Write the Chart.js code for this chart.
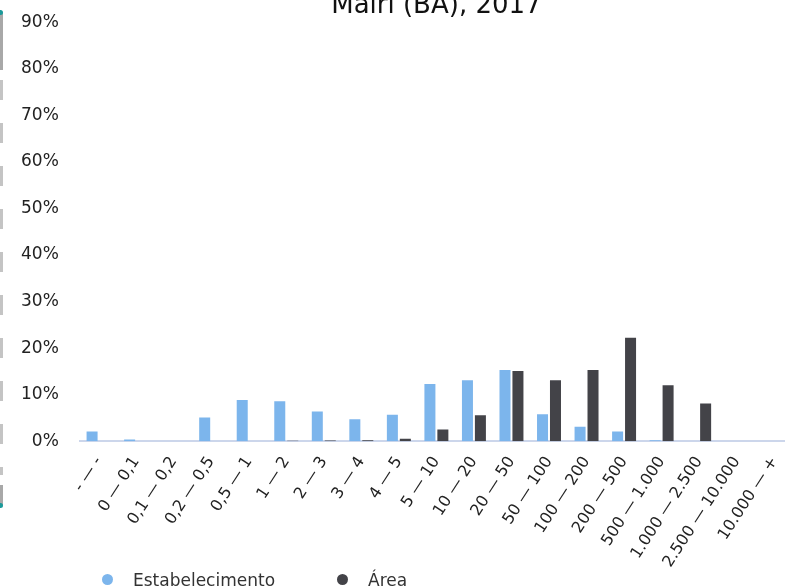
<!DOCTYPE html>
<html>
<head>
<meta charset="utf-8">
<script src="https://cdn.jsdelivr.net/npm/chart.js@4.4.1/dist/chart.umd.min.js"></script>
<style>
  html, body { margin: 0; padding: 0; background: #fff; overflow: hidden; }
  body { width: 785px; height: 587px; position: relative; font-family: "DejaVu Sans", sans-serif; }
  #wrap { position: absolute; left: 0; top: -17px; width: 870px; height: 640px; }
  .slider { position: absolute; left: 0; width: 3px; }
  .dot { position: absolute; left: -2px; width: 5px; height: 5px; border-radius: 50%; background: #1b9a9a; }
  #legend { position: absolute; left: 0; top: 570px; font-size: 17px; color: #333; white-space: nowrap; }
  #legend span.item { position: absolute; top: 0; }
  #legend i { display: inline-block; width: 11px; height: 11px; border-radius: 50%; vertical-align: middle; margin-right: 20px; position: relative; top: -2px; }
</style>
</head>
<body>
<div class="slider" style="top:12px;height:58px;background:#a8a8a8;"></div>
<div class="slider" style="top:80px;height:395px;background:repeating-linear-gradient(#c4c4c4 0 20px, transparent 20px 43px);"></div>
<div class="slider" style="top:485px;height:20px;background:#a8a8a8;"></div>
<div class="dot" style="top:10px;"></div>
<div class="dot" style="top:503px;"></div>
<div id="wrap"><canvas id="barChart"></canvas></div>
<div id="legend"></div>
<script>
var categories = ['- \u2014 -', '0 \u2014 0,1', '0,1 \u2014 0,2', '0,2 \u2014 0,5', '0,5 \u2014 1', '1 \u2014 2', '2 \u2014 3',
    '3 \u2014 4', '4 \u2014 5', '5 \u2014 10', '10 \u2014 20', '20 \u2014 50', '50 \u2014 100', '100 \u2014 200',
    '200 \u2014 500', '500 \u2014 1.000', '1.000 \u2014 2.500', '2.500 \u2014 10.000', '10.000 \u2014 +'];
var estabelecimento = [2.1, 0.35, 0, 5.1, 8.85, 8.6, 6.4, 4.7, 5.7, 12.3, 13.1, 15.3, 5.8, 3.1, 2.1, 0.2, 0, 0, 0];
var area = [0, 0, 0, 0, 0.02, 0.1, 0.15, 0.2, 0.55, 2.5, 5.6, 15.1, 13.1, 15.3, 22.2, 12.0, 8.1, 0, 0];
var seriesNames = ['Estabelecimento', '\u00c1rea'];
var seriesColors = ['#7cb5ec', '#434348'];
var titleText = 'Mairi (BA), 2017';

// legend drawn as html, placed under the plot
var legend = document.getElementById('legend');
var legendX = [102, 337];
seriesNames.forEach(function (name, i) {
    var s = document.createElement('span');
    s.className = 'item';
    s.style.left = legendX[i] + 'px';
    s.innerHTML = '<i style="background:' + seriesColors[i] + '"></i>' + name;
    legend.appendChild(s);
});

// center the title over the plot area, not the whole canvas
var titleOverPlot = {
    id: 'titleOverPlot',
    afterLayout: function (chart) {
        if (chart.titleBlock) {
            chart.titleBlock.left = chart.chartArea.left;
            chart.titleBlock.right = chart.chartArea.right;
        }
    }
};

var canvas = document.getElementById('barChart');
var ctx = canvas.getContext('2d');
Chart.defaults.font.family = '"DejaVu Sans", sans-serif';

var chart = new Chart(ctx, {
    type: 'bar',
    data: {
        labels: categories,
        datasets: [{
            label: seriesNames[0],
            data: estabelecimento,
            backgroundColor: seriesColors[0],
            categoryPercentage: 0.69,
            barPercentage: 0.85
        },
        {
            label: seriesNames[1],
            data: area,
            backgroundColor: seriesColors[1],
            categoryPercentage: 0.69,
            barPercentage: 0.85
        }]
    },
    plugins: [titleOverPlot],
    options: {
        responsive: true,
        maintainAspectRatio: false,
        animation: false,
        layout: { padding: { left: 0, right: 77, top: 0, bottom: 48 } },
        plugins: {
            legend: { display: false },
            tooltip: { enabled: false },
            title: {
                display: true,
                text: titleText,
                color: '#111',
                font: { size: 26, weight: 'normal' },
                padding: { top: 8, bottom: 0 }
            }
        },
        scales: {
            x: {
                grid: { display: false },
                border: { display: true, color: '#ccd6eb', width: 2 },
                ticks: {
                    color: '#222',
                    font: { size: 16 },
                    minRotation: 57,
                    maxRotation: 57,
                    autoSkip: false,
                    padding: 4
                }
            },
            y: {
                min: 0,
                max: 90,
                grid: { display: false, drawTicks: false },
                border: { display: false },
                ticks: {
                    stepSize: 10,
                    color: '#222',
                    font: { size: 17 },
                    padding: 21,
                    callback: function (v) { return v + '%'; }
                }
            }
        }
    }
});
</script>
</body>
</html>
